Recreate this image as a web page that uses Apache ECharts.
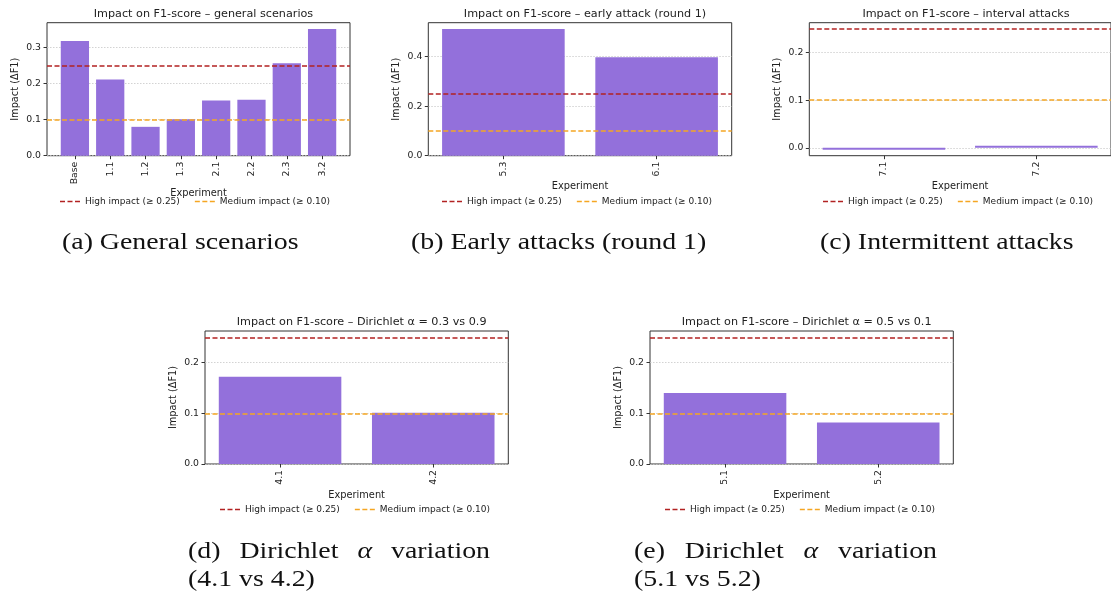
<!DOCTYPE html>
<html>
<head>
<meta charset="utf-8">
<script src="https://cdn.jsdelivr.net/npm/echarts@6/dist/echarts.min.js"></script>
<style>
  html, body { margin: 0; padding: 0; background: #fff; }
  #chart { width: 1111px; height: 603px; }
</style>
</head>
<body>
<div id="chart"></div>
<script>
// data
var catsA = ['Base', '1.1', '1.2', '1.3', '2.1', '2.2', '2.3', '3.2'];
var valsA = [0.318, 0.211, 0.080, 0.101, 0.153, 0.155, 0.256, 0.351];
var catsB = ['5.3', '6.1'];
var valsB = [0.511, 0.397];
var catsC = ['7.1', '7.2'];
var valsC = [-0.004, 0.004];
var catsD = ['4.1', '4.2'];
var valsD = [0.172, 0.101];
var catsE = ['5.1', '5.2'];
var valsE = [0.140, 0.082];

var ticksA = [0, 0.1, 0.2, 0.3];
var ticksB = [0, 0.2, 0.4];
var ticksC = [0, 0.1, 0.2];
var ticksD = [0, 0.1, 0.2];
var ticksE = [0, 0.1, 0.2];

var HIGH = 0.25;
var MEDIUM = 0.10;
var HIGH_NAME = 'High impact (≥ 0.25)';
var MEDIUM_NAME = 'Medium impact (≥ 0.10)';

var HIGH_COLOR = '#b22222';
var MEDIUM_COLOR = '#f5a623';
var BAR_COLOR = '#9370DB';
var FONT = 'DejaVu Sans';
var SERIF = 'Liberation Serif';
var CAP_SIZE = 24;
var CAP_SCALE = 1.16;

var option = {
  animation: false,
  backgroundColor: '#fff',
  title: [], grid: [], xAxis: [], yAxis: [], legend: [], series: [], graphic: []
};

// one subplot: bars + the two threshold lines, matplotlib-like limits
function addPanel(cats, vals, ticks, title, box, legendLeft, legendTop, xNameGap) {
  var i = option.grid.length;
  var n = cats.length;
  var xSpan = n - 0.2;
  var xMin = -0.4 - 0.05 * xSpan;
  var xMax = n - 0.6 + 0.05 * xSpan;
  var lo = Math.min(0, Math.min.apply(null, vals));
  var hi = Math.max(HIGH, Math.max.apply(null, vals));
  var ySpan = hi - lo;
  var yMin = lo < 0 ? lo - 0.05 * ySpan : 0;
  var yMax = hi + 0.05 * ySpan;
  var xIdx = cats.map(function (c, k) { return k; });

  option.grid.push({
    left: box[0], top: box[1], width: box[2], height: box[3],
    show: true, borderColor: '#333', borderWidth: 1, containLabel: false
  });
  option.title.push({
    text: title, left: box[0] + box[2] / 2, top: box[1] - 19, textAlign: 'center',
    textStyle: { fontSize: 11.2, fontWeight: 'normal', color: '#222', fontFamily: FONT }
  });
  option.xAxis.push({
    type: 'value', gridIndex: i, min: xMin, max: xMax,
    name: 'Experiment', nameLocation: 'middle', nameGap: xNameGap,
    nameTextStyle: { fontSize: 9.8, color: '#222', fontFamily: FONT },
    axisLine: { show: false, onZero: false },
    axisTick: { show: true, length: 3.5, customValues: xIdx, lineStyle: { color: '#333' } },
    axisLabel: {
      customValues: xIdx, rotate: 90, margin: 6, fontSize: 9.3, color: '#222', fontFamily: FONT,
      formatter: function (v) { return cats[Math.round(v)]; }
    },
    splitLine: { show: false }
  });
  option.yAxis.push({
    type: 'value', gridIndex: i, min: yMin, max: yMax,
    name: 'Impact (ΔF1)', nameLocation: 'middle', nameGap: 27, nameRotate: 90,
    nameTextStyle: { fontSize: 9.8, color: '#222', fontFamily: FONT },
    axisLine: { show: false, onZero: false },
    axisTick: { show: true, length: 3.5, customValues: ticks, lineStyle: { color: '#333' } },
    axisLabel: {
      customValues: ticks, margin: 6, fontSize: 9.3, color: '#222', fontFamily: FONT,
      formatter: function (v) { return v.toFixed(1); }
    },
    splitLine: { show: true, lineStyle: { color: '#c8c8c8', type: [1.5, 1.5], width: 0.8 } }
  });
  option.series.push({
    type: 'bar', xAxisIndex: i, yAxisIndex: i, name: 'bars' + i,
    barWidth: 0.8 * box[2] / (xMax - xMin),
    itemStyle: { color: BAR_COLOR },
    data: vals.map(function (v, k) { return [k, v]; })
  });
  [[HIGH_NAME, HIGH, HIGH_COLOR], [MEDIUM_NAME, MEDIUM, MEDIUM_COLOR]].forEach(function (t) {
    option.series.push({
      type: 'line', name: t[0], xAxisIndex: i, yAxisIndex: i, data: [],
      color: t[2], itemStyle: { color: t[2] }, lineStyle: { color: t[2] },
      markLine: {
        silent: true, symbol: ['none', 'none'], label: { show: false },
        lineStyle: { color: t[2], type: [5, 2.5], width: 1.5 },
        data: [{ yAxis: t[1] }]
      }
    });
  });
  option.legend.push({
    data: [HIGH_NAME, MEDIUM_NAME], left: legendLeft, top: legendTop,
    itemWidth: 20, itemHeight: 1.5, itemGap: 15, padding: 0,
    icon: 'path://M0,0h5v1.5h-5z M7.5,0h5v1.5h-5z M15,0h5v1.5h-5z',
    itemStyle: { borderWidth: 0 },
    textStyle: { fontSize: 9, color: '#222', fontFamily: FONT }
  });
}

addPanel(catsA, valsA, ticksA, 'Impact on F1-score – general scenarios', [47, 22.7, 303, 133], 60, 197, 33);
addPanel(catsB, valsB, ticksB, 'Impact on F1-score – early attack (round 1)', [428.3, 22.7, 303.4, 133], 442, 197, 26);
addPanel(catsC, valsC, ticksC, 'Impact on F1-score – interval attacks', [809.3, 22.7, 303.4, 133], 823, 197, 26);
addPanel(catsD, valsD, ticksD, 'Impact on F1-score – Dirichlet α = 0.3 vs 0.9', [205, 331, 303.3, 133], 220, 505, 26);
addPanel(catsE, valsE, ticksE, 'Impact on F1-score – Dirichlet α = 0.5 vs 0.1', [650, 331, 303.3, 133], 665, 505, 26);

// sub-figure captions
var measureCtx = document.createElement('canvas').getContext('2d');
function capFont(italic) {
  return (italic ? 'italic ' : '') + CAP_SIZE + 'px "' + SERIF + '"';
}
function caption(text, x, y, italic) {
  option.graphic.push({
    type: 'text', x: x, y: y, scaleX: CAP_SCALE, silent: true,
    style: {
      text: text, x: 0, y: 0, align: 'left', verticalAlign: 'middle',
      fontFamily: SERIF, fontSize: CAP_SIZE, fontStyle: italic ? 'italic' : 'normal', fill: '#111'
    }
  });
}
// justified line: words spread between x0 and x1
function justified(words, x0, x1, y) {
  var widths = words.map(function (w) {
    measureCtx.font = capFont(w === 'α');
    return measureCtx.measureText(w).width * CAP_SCALE;
  });
  var total = widths.reduce(function (a, b) { return a + b; }, 0);
  var gap = (x1 - x0 - total) / (words.length - 1);
  var x = x0;
  words.forEach(function (w, k) {
    caption(w, x, y, w === 'α');
    x += widths[k] + gap;
  });
}
caption('(a) General scenarios', 62, 243);
caption('(b) Early attacks (round 1)', 411, 243);
caption('(c) Intermittent attacks', 820, 243);
justified(['(d)', 'Dirichlet', 'α', 'variation'], 188, 490, 552);
caption('(4.1 vs 4.2)', 188, 580);
justified(['(e)', 'Dirichlet', 'α', 'variation'], 634, 937, 552);
caption('(5.1 vs 5.2)', 634, 580);

var chart = echarts.init(document.getElementById('chart'));
chart.setOption(option);
</script>
</body>
</html>
